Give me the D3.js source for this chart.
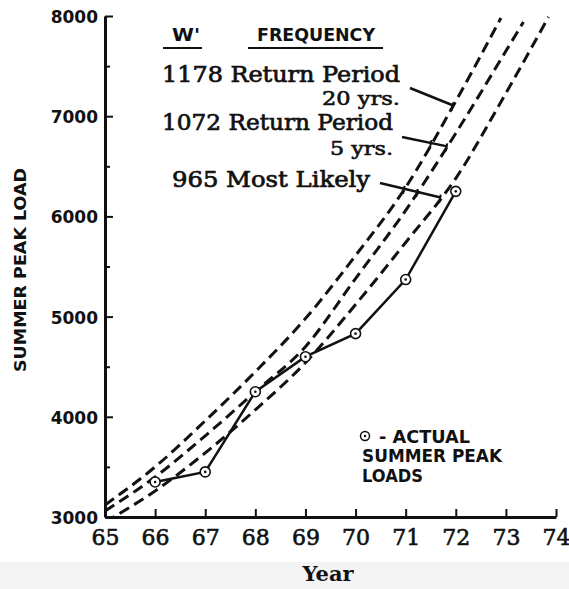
<!DOCTYPE html>
<html><head><meta charset="utf-8">
<script src="https://cdn.jsdelivr.net/npm/d3@7"></script>
<style>body{margin:0;background:#fff}svg{display:block}</style>
</head><body>
<script>
// ---- data ----
const actualYears = [66, 67, 68, 69, 70, 71, 72];
const actualLoads = [3350, 3450, 4250, 4600, 4830, 5370, 6250];

const rp20Years  = [65, 66, 67, 68, 69, 70, 71, 72, 72.9];
const rp20Loads  = [3120, 3500, 3960, 4450, 4980, 5610, 6290, 7150, 7980];
const rp5Years   = [65, 66, 67, 68, 69, 70, 71, 72, 73, 73.35];
const rp5Loads   = [3060, 3400, 3810, 4250, 4700, 5380, 6060, 6830, 7650, 7940];
const likelyYears = [65, 66, 67, 68, 69, 70, 71, 72, 73, 73.85];
const likelyLoads = [2950, 3260, 3640, 4070, 4540, 5120, 5740, 6380, 7230, 7990];

const xTicks = [65, 66, 67, 68, 69, 70, 71, 72, 73, 74];
const yTicks = [3000, 4000, 5000, 6000, 7000, 8000];
const yMinorTicks = [3500, 4500, 5500, 6500, 7500];

const wPrimes = ["1178", "1072", "965"];
const freqLabels = ["Return Period", "Return Period", "Most Likely"];
const freqSub = ["20 yrs.", "5 yrs.", ""];

// ---- drawing ----
const W = 569, H = 589;
const svg = d3.select("body").append("svg").attr("width", W).attr("height", H);
svg.append("rect").attr("x",0).attr("y",562).attr("width",W).attr("height",H-562).attr("fill","#f4f4f4");

const x = d3.scaleLinear().domain([65, 74]).range([105, 556]);
const y = d3.scaleLinear().domain([3000, 8000]).range([517, 16]);

svg.append("defs").append("clipPath").attr("id","plot")
  .append("rect").attr("x",x(65)).attr("y",y(8000)-4).attr("width",x(74)-x(65)).attr("height",y(3000)-y(8000)+4);

const ink = "#111";

// y axis
const yAxis = svg.append("g").attr("transform",`translate(${x(65)},0)`)
  .call(d3.axisLeft(y).tickValues(yTicks).tickSize(-8).tickSizeOuter(0).tickPadding(7).tickFormat(d3.format("d")));
yAxis.select(".domain").attr("stroke", ink).attr("stroke-width", 3);
yAxis.selectAll(".tick line").attr("stroke", ink).attr("stroke-width", 2);
yAxis.selectAll(".tick text").attr("font-family","'DejaVu Sans'").attr("font-weight","bold")
  .attr("font-size",17).attr("fill",ink).attr("dy","0.38em");
const yMinor = svg.append("g").attr("transform",`translate(${x(65)},0)`)
  .call(d3.axisLeft(y).tickValues(yMinorTicks).tickSize(-5).tickFormat(""));
yMinor.select(".domain").remove();
yMinor.selectAll(".tick line").attr("stroke", ink).attr("stroke-width", 2);

// x axis
const xAxis = svg.append("g").attr("transform",`translate(0,${y(3000)})`)
  .call(d3.axisBottom(x).tickValues(xTicks).tickSize(-8).tickSizeOuter(0).tickPadding(12).tickFormat(d3.format("d")));
xAxis.select(".domain").attr("stroke", ink).attr("stroke-width", 3);
xAxis.selectAll(".tick line").attr("stroke", ink).attr("stroke-width", 2);
xAxis.selectAll(".tick text").attr("font-family","'DejaVu Serif'").attr("font-size",22).attr("fill",ink)
  .attr("stroke",ink).attr("stroke-width",0.6);

// axis titles
svg.append("text").attr("x",328).attr("y",581).attr("text-anchor","middle")
  .attr("font-family","'DejaVu Serif'").attr("font-weight","bold").attr("font-size",21).attr("fill",ink).text("Year");
svg.append("text").attr("transform","translate(26,270) rotate(-90)").attr("text-anchor","middle")
  .attr("font-family","'DejaVu Sans'").attr("font-weight","bold").attr("font-size",15)
  .attr("textLength",204).attr("lengthAdjust","spacingAndGlyphs").attr("fill",ink).text("SUMMER PEAK LOAD");

// forecast curves
const line = d3.line().x(d=>x(d[0])).y(d=>y(d[1])).curve(d3.curveMonotoneX);
const curves = [
  d3.zip(rp20Years, rp20Loads),
  d3.zip(rp5Years, rp5Loads),
  d3.zip(likelyYears, likelyLoads)
];
const gCurves = svg.append("g").attr("clip-path","url(#plot)");
curves.forEach(c => {
  gCurves.append("path").attr("d", line(c)).attr("fill","none").attr("stroke",ink)
    .attr("stroke-width",3).attr("stroke-dasharray","11,6");
});

// actual loads
const actual = d3.zip(actualYears, actualLoads);
svg.append("path").attr("d", d3.line().x(d=>x(d[0])).y(d=>y(d[1]))(actual))
  .attr("fill","none").attr("stroke",ink).attr("stroke-width",2.5);
const pts = svg.append("g").selectAll("g").data(actual).join("g")
  .attr("transform", d=>`translate(${x(d[0])},${y(d[1])})`);
pts.append("circle").attr("r",5).attr("fill","#fff").attr("stroke",ink).attr("stroke-width",1.6);
pts.append("circle").attr("r",1.3).attr("fill",ink);

// legend (header)
const leg = svg.append("g").attr("fill",ink);
leg.append("text").attr("x",172).attr("y",41).attr("font-family","'DejaVu Sans'").attr("font-weight","bold")
  .attr("font-size",17).attr("textLength",28).attr("lengthAdjust","spacingAndGlyphs").text("W'");
leg.append("text").attr("x",257).attr("y",41).attr("font-family","'DejaVu Sans'").attr("font-weight","bold")
  .attr("font-size",17).attr("textLength",118).attr("lengthAdjust","spacingAndGlyphs").text("FREQUENCY");
leg.append("line").attr("x1",163).attr("x2",202).attr("y1",48).attr("y2",48).attr("stroke",ink).attr("stroke-width",2);
leg.append("line").attr("x1",248).attr("x2",383).attr("y1",48).attr("y2",48).attr("stroke",ink).attr("stroke-width",2);

const rowX = [162, 162, 172];
const rowY = [82, 130, 187];
const rowLen = [238, 231, 198];
const subRight = [400, 393];
const subY = [105, 155];
const subLen = [78, 63];
wPrimes.forEach((w,i) => {
  leg.append("text").attr("x",rowX[i]).attr("y",rowY[i]).attr("font-family","'DejaVu Serif'")
    .attr("font-size",22).attr("textLength",rowLen[i]).attr("lengthAdjust","spacingAndGlyphs")
    .attr("stroke",ink).attr("stroke-width",0.7)
    .text(w + " " + freqLabels[i]);
  if (freqSub[i]) {
    leg.append("text").attr("x",subRight[i]-subLen[i]).attr("y",subY[i]).attr("font-family","'DejaVu Serif'")
      .attr("font-size",19).attr("textLength",subLen[i]).attr("lengthAdjust","spacingAndGlyphs")
      .attr("stroke",ink).attr("stroke-width",0.6).text(freqSub[i]);
  }
});

// leaders: start point (pixel) -> end on target curve
function curveAt(c, yr){
  const xs = c.map(d=>d[0]), ys = c.map(d=>d[1]);
  return d3.scaleLinear().domain(xs).range(ys)(yr);
}
const leaders = [
  {sx:410, sy:88, target:0, endYear:71.95},
  {sx:402, sy:137, target:1, endYear:71.83},
  {sx:380, sy:183, target:2, endYear:71.7}
];
leaders.forEach(L => {
  const ex = x(L.endYear), ey = y(curveAt(curves[L.target], L.endYear));
  svg.append("line").attr("x1",L.sx).attr("y1",L.sy).attr("x2",ex).attr("y2",ey)
    .attr("stroke",ink).attr("stroke-width",2.5);
  for (let k=0;k<=L.target;k++){
    let prev=null;
    for (let t=0;t<=1.0001;t+=0.005){
      const px = L.sx+(ex-L.sx)*t, py = L.sy+(ey-L.sy)*t;
      const diff = py - y(curveAt(curves[k], x.invert(px)));
      if (prev!==null && (Math.sign(diff)!==Math.sign(prev.diff) || t>=1)) {
        svg.append("line").attr("x1",px).attr("x2",px-1.5).attr("y1",py-3).attr("y2",py+5)
          .attr("stroke",ink).attr("stroke-width",2);
        break;
      }
      prev={diff};
    }
  }
});

// lower-right legend
const lg = svg.append("g").attr("fill",ink).attr("font-family","'DejaVu Sans'").attr("font-weight","bold").attr("font-size",17);
lg.append("circle").attr("cx",365).attr("cy",436).attr("r",4.5).attr("fill","#fff").attr("stroke",ink).attr("stroke-width",1.5);
lg.append("circle").attr("cx",365).attr("cy",436).attr("r",1.2);
lg.append("text").attr("x",379).attr("y",443).attr("textLength",91).attr("lengthAdjust","spacingAndGlyphs").text("- ACTUAL");
lg.append("text").attr("x",362).attr("y",462).attr("textLength",140).attr("lengthAdjust","spacingAndGlyphs").text("SUMMER PEAK");
lg.append("text").attr("x",362).attr("y",482).attr("textLength",61).attr("lengthAdjust","spacingAndGlyphs").text("LOADS");
</script>
</body></html>
